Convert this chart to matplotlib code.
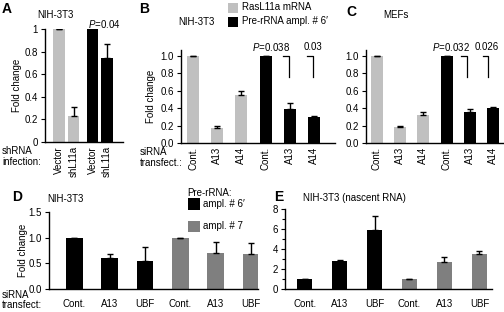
import matplotlib
matplotlib.use('Agg')
import matplotlib.pyplot as plt
from matplotlib.patches import Rectangle

plt.rcParams['font.family'] = ['Liberation Sans', 'DejaVu Sans']
plt.rcParams['font.size'] = 7
plt.rcParams['mathtext.fontset'] = 'custom'
plt.rcParams['mathtext.it'] = 'Liberation Sans:italic'
plt.rcParams['mathtext.rm'] = 'Liberation Sans'

LIGHT = '#c0c0c0'
DARK = '#7f7f7f'
BLACK = '#000000'

# Panel A: NIH-3T3 shRNA
a_labels = ['Vector', 'shL11a', 'Vector', 'shL11a']
a_values = [1.0, 0.23, 1.0, 0.74]
a_errors = [0.0, 0.08, 0.0, 0.13]

# Panel B: NIH-3T3 siRNA
b_labels = ['Cont.', 'A13', 'A14', 'Cont.', 'A13', 'A14']
b_values = [1.0, 0.17, 0.55, 1.0, 0.39, 0.30]
b_errors = [0.005, 0.02, 0.05, 0.005, 0.07, 0.012]

# Panel C: MEFs siRNA
c_labels = ['Cont.', 'A13', 'A14', 'Cont.', 'A13', 'A14']
c_values = [1.0, 0.18, 0.32, 1.0, 0.36, 0.40]
c_errors = [0.005, 0.02, 0.035, 0.005, 0.03, 0.012]

# Panel D: pre-rRNA amplicons
d_labels = ['Cont.', 'A13', 'UBF', 'Cont.', 'A13', 'UBF']
d_values = [1.0, 0.61, 0.55, 1.0, 0.70, 0.68]
d_errors = [0.0, 0.08, 0.27, 0.0, 0.22, 0.22]

# Panel E: nascent RNA
e_labels = ['Cont.', 'A13', 'UBF', 'Cont.', 'A13', 'UBF']
e_values = [1.0, 2.8, 5.9, 1.0, 2.7, 3.55]
e_errors = [0.0, 0.12, 1.4, 0.0, 0.55, 0.3]

W, H = 504, 312
fig = plt.figure(figsize=(W / 100, H / 100), dpi=100)


def px_axes(x0, y0, x1, y1):
    # pixel box (top-left origin) -> figure axes
    return fig.add_axes([x0 / W, 1 - y1 / H, (x1 - x0) / W, (y1 - y0) / H])


def style(ax):
    for s in ['top', 'right']:
        ax.spines[s].set_visible(False)
    for s in ['left', 'bottom']:
        ax.spines[s].set_linewidth(1.0)
    ax.tick_params(axis='y', direction='out', length=3, width=0.8, pad=2, labelsize=7)
    ax.tick_params(axis='x', length=0, pad=3, labelsize=7)


def bars(ax, pos, vals, errs, colors, width):
    ax.bar(pos, vals, width=width, color=colors, edgecolor='none', zorder=2)
    ax.errorbar(pos, vals, yerr=[[0] * len(errs), errs], fmt='none',
                ecolor='black', elinewidth=1.0, capsize=2.5, capthick=1.0, zorder=3)


def ftext(x, y, s, **kw):
    fig.text(x / W, 1 - y / H, s, **kw)


def fbox(x0, y0, x1, y1, color):
    fig.add_artist(Rectangle((x0 / W, 1 - y1 / H), (x1 - x0) / W, (y1 - y0) / H,
                             transform=fig.transFigure, facecolor=color, edgecolor='none'))


# ---- A ----
axA = px_axes(45, 29, 123, 142)
posA = [0, 1, 2.3, 3.3]
bars(axA, posA, a_values, a_errors, [LIGHT, LIGHT, BLACK, BLACK], 0.8)
axA.set_xlim(-0.97, 4.4)
axA.set_ylim(0, 1.0)
axA.set_yticks([0, 0.2, 0.4, 0.6, 0.8, 1])
axA.set_yticklabels(['0', '0.2', '0.4', '0.6', '0.8', '1'])
axA.set_xticks(posA)
axA.set_xticklabels(a_labels, rotation=90)
style(axA)
axA.set_ylabel('Fold change', fontsize=7)
axA.yaxis.set_label_coords(-0.29, 0.5)
axA.text(3.1, 1.045, '$P$=0.04', ha='center', va='center', fontsize=7)

# ---- B ----
axB = px_axes(181, 50, 335, 143)
posB = list(range(6))
colsBC = [LIGHT] * 3 + [BLACK] * 3
bars(axB, posB, b_values, b_errors, colsBC, 0.5)
axB.set_xlim(-0.5, 5.87)
axB.set_ylim(0, 1.07)
axB.set_yticks([0, 0.2, 0.4, 0.6, 0.8, 1.0])
axB.set_yticklabels(['0.0', '0.2', '0.4', '0.6', '0.8', '1.0'])
axB.set_xticks(posB)
axB.set_xticklabels(b_labels, rotation=90)
style(axB)
axB.set_ylabel('Fold change', fontsize=7)
axB.yaxis.set_label_coords(-0.16, 0.5)
for hx0, hx1 in [(3.72, 3.97), (4.71, 4.96)]:
    axB.plot([hx0, hx1, hx1], [1.0, 1.0, 0.76], color='black', lw=0.9, clip_on=False)
axB.text(2.44, 1.10, '$P$=0.038', ha='left', va='center', fontsize=7)
axB.text(4.59, 1.10, '0.03', ha='left', va='center', fontsize=7)

# ---- C ----
axC = px_axes(366, 50, 503, 143)
bars(axC, posB, c_values, c_errors, colsBC, 0.52)
axC.set_xlim(-0.47, 5.43)
axC.set_ylim(0, 1.07)
axC.set_yticks([0, 0.2, 0.4, 0.6, 0.8, 1.0])
axC.set_yticklabels(['0.0', '0.2', '0.4', '0.6', '0.8', '1.0'])
axC.set_xticks(posB)
axC.set_xticklabels(c_labels, rotation=90)
style(axC)
for hx0, hx1 in [(3.64, 3.88), (4.57, 4.78)]:
    axC.plot([hx0, hx1, hx1], [1.0, 1.0, 0.76], color='black', lw=0.9, clip_on=False)
axC.text(2.37, 1.10, '$P$=0.032', ha='left', va='center', fontsize=7)
axC.text(4.2, 1.10, '0.026', ha='left', va='center', fontsize=7)

# ---- D ----
axD = px_axes(49, 212, 258, 289)
colsDE = [BLACK] * 3 + [DARK] * 3
bars(axD, posB, d_values, d_errors, colsDE, 0.47)
axD.set_xlim(-0.72, 5.2)
axD.set_ylim(0, 1.5)
axD.set_yticks([0, 0.5, 1.0, 1.5])
axD.set_yticklabels(['0.0', '0.5', '1.0', '1.5'])
axD.set_xticks(posB)
axD.set_xticklabels(d_labels)
style(axD)
axD.tick_params(axis='x', pad=7)
axD.set_ylabel('Fold change', fontsize=7)
axD.yaxis.set_label_coords(-0.1, 0.5)

# ---- E ----
axE = px_axes(285, 209, 492, 289)
bars(axE, posB, e_values, e_errors, colsDE, 0.41)
axE.set_xlim(-0.56, 5.36)
axE.set_ylim(0, 8)
axE.set_yticks([0, 2, 4, 6, 8])
axE.set_yticks([1, 3, 5, 7], minor=True)
axE.set_xticks(posB)
axE.set_xticklabels(e_labels)
style(axE)
axE.tick_params(axis='y', which='minor', length=2, width=0.8)
axE.tick_params(axis='x', pad=7)

# ---- figure text ----
bold = dict(fontsize=10, fontweight='bold', ha='left', va='center')
ftext(2, 9, 'A', **bold)
ftext(139, 9, 'B', **bold)
ftext(346, 12, 'C', **bold)
ftext(12, 197, 'D', **bold)
ftext(274, 197, 'E', **bold)

ftext(37, 15, 'NIH-3T3', fontsize=7, va='center')
ftext(178, 22, 'NIH-3T3', fontsize=7, va='center')
ftext(383, 15, 'MEFs', fontsize=7, va='center')
ftext(47, 199, 'NIH-3T3', fontsize=7, va='center')
ftext(303, 198, 'NIH-3T3 (nascent RNA)', fontsize=7, va='center')

ftext(2, 151, 'shRNA', fontsize=7, va='center')
ftext(2, 162, 'infection:', fontsize=7, va='center')
ftext(140, 152, 'siRNA', fontsize=7, va='center')
ftext(140, 163, 'transfect.:', fontsize=7, va='center')
ftext(2, 295, 'siRNA', fontsize=7, va='center')
ftext(2, 305, 'transfect:', fontsize=7, va='center')

# legends
fbox(228, 3, 238, 13, LIGHT)
ftext(242, 7, 'RasL11a mRNA', fontsize=7, va='center')
fbox(228, 17, 238, 27, BLACK)
ftext(242, 21, 'Pre-rRNA ampl. # 6\u2032', fontsize=7, va='center')

ftext(187, 193, 'Pre-rRNA:', fontsize=7, va='center')
fbox(188, 198, 200, 210, BLACK)
ftext(203, 204, 'ampl. # 6\u2032', fontsize=7, va='center')
fbox(188, 221, 200, 232, DARK)
ftext(203, 226, 'ampl. # 7', fontsize=7, va='center')

fig.savefig('out.png', dpi=100)
